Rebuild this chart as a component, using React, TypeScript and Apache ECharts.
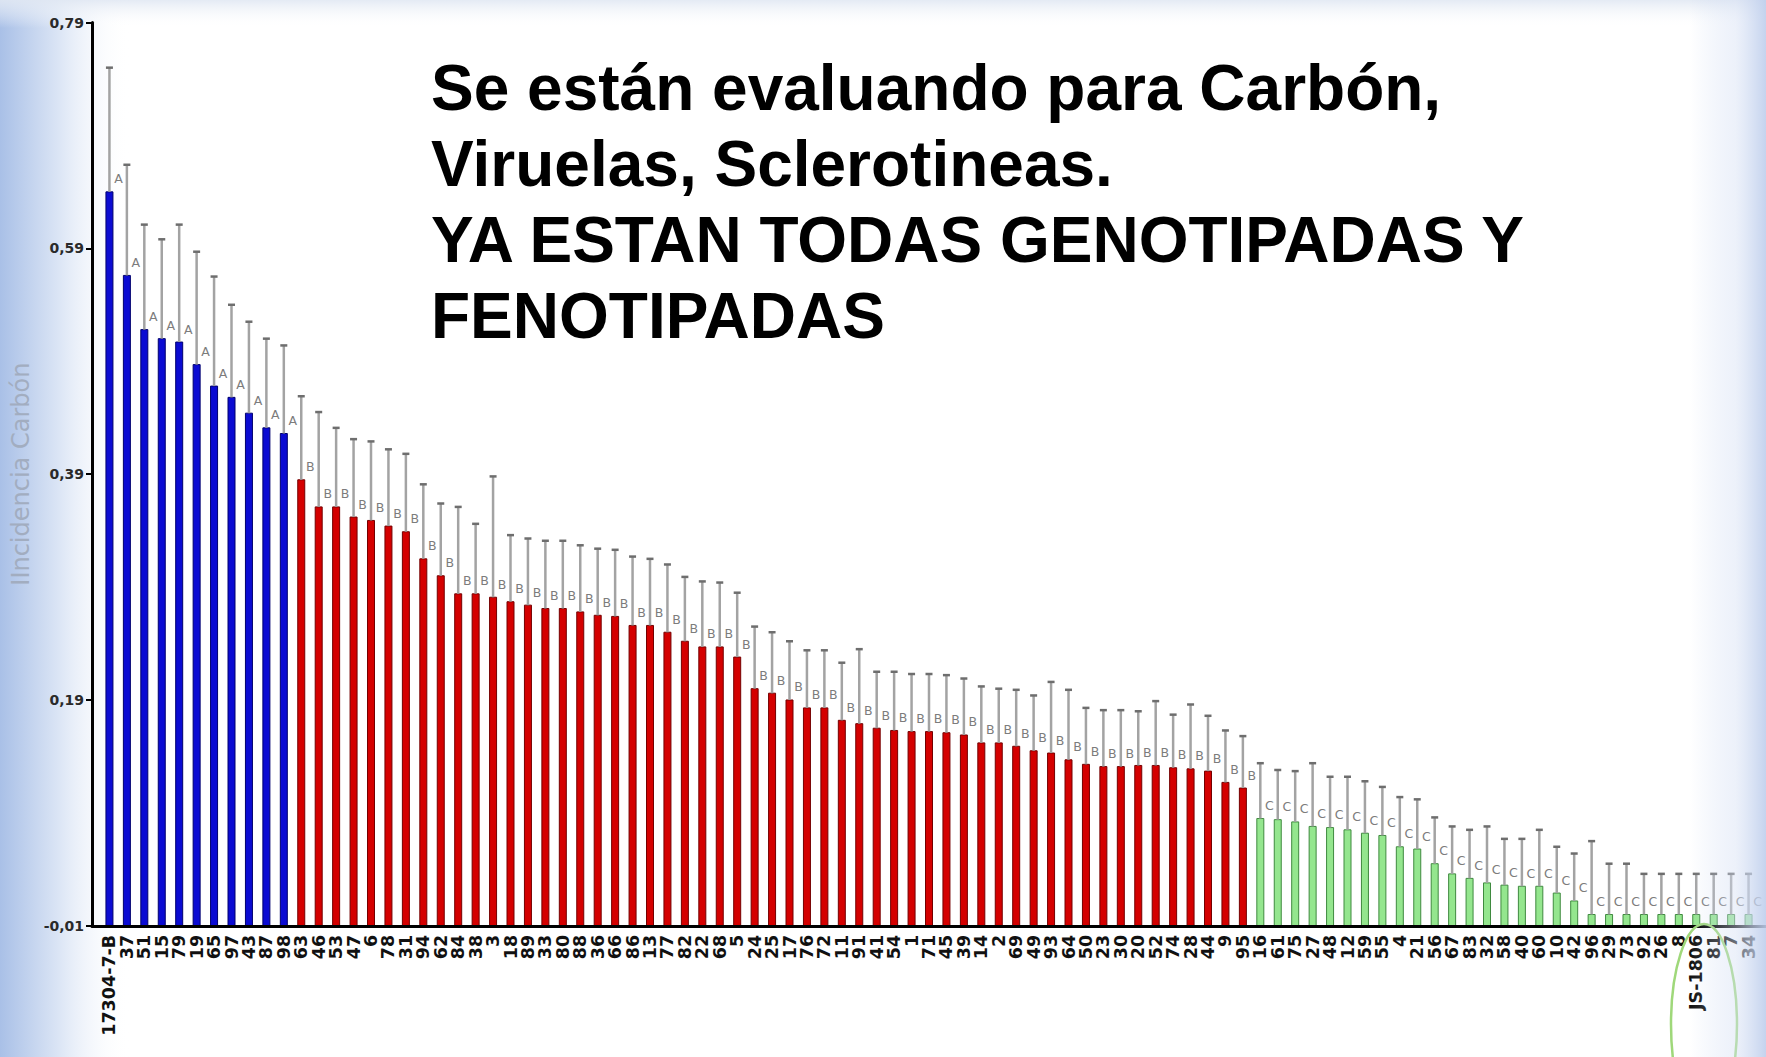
import React, { useEffect, useRef } from "react";
import * as echarts from "echarts";

// ---------- data ----------
const yTickValues = [-0.01, 0.19, 0.39, 0.59, 0.79];
const yAxisTitle = "IIncidencia Carbón";
const titleLines = [
  "Se están evaluando para Carbón,",
  "Viruelas, Sclerotineas.",
  "YA ESTAN TODAS GENOTIPADAS Y",
  "FENOTIPADAS",
];

// group A (blue)
const groupACats = ["17304-7-B", "37", "51", "15", "79", "19", "65", "97", "43", "87", "98"];
const groupAMeans = [0.640, 0.566, 0.518, 0.510, 0.507, 0.487, 0.468, 0.458, 0.444, 0.431, 0.426];
const groupAUpper = [0.750, 0.664, 0.611, 0.598, 0.611, 0.587, 0.565, 0.540, 0.525, 0.510, 0.504];

// group B (red)
const groupBCats = [
  "63", "46", "53", "47", "6", "78", "31", "94", "62", "84",
  "38", "3", "18", "89", "33", "80", "88", "36", "66", "86",
  "13", "77", "82", "22", "68", "5", "24", "25", "17", "76",
  "72", "11", "91", "41", "54", "1", "71", "45", "39", "14",
  "2", "69", "49", "93", "64", "50", "23", "30", "20", "52",
  "74", "28", "44", "9", "95",
];
const groupBMeans = [
  0.385, 0.361, 0.361, 0.352, 0.349, 0.344, 0.339, 0.315, 0.300, 0.284,
  0.284, 0.281, 0.277, 0.274, 0.271, 0.271, 0.268, 0.265, 0.264, 0.256,
  0.256, 0.250, 0.242, 0.237, 0.237, 0.228, 0.200, 0.196, 0.190, 0.183,
  0.183, 0.172, 0.169, 0.165, 0.163, 0.162, 0.162, 0.161, 0.159, 0.152,
  0.152, 0.149, 0.145, 0.143, 0.137, 0.133, 0.131, 0.131, 0.132, 0.132,
  0.130, 0.129, 0.127, 0.117, 0.112,
];
const groupBUpper = [
  0.459, 0.445, 0.431, 0.421, 0.419, 0.412, 0.408, 0.381, 0.364, 0.361,
  0.346, 0.388, 0.336, 0.333, 0.331, 0.331, 0.327, 0.324, 0.323, 0.317,
  0.315, 0.310, 0.299, 0.295, 0.294, 0.285, 0.255, 0.250, 0.242, 0.234,
  0.234, 0.223, 0.235, 0.215, 0.215, 0.213, 0.213, 0.212, 0.209, 0.202,
  0.200, 0.199, 0.194, 0.206, 0.199, 0.183, 0.181, 0.181, 0.180, 0.189,
  0.177, 0.186, 0.176, 0.163, 0.158,
];

// group C (green)
const groupCCats = [
  "16", "61", "75", "27", "48", "12", "59", "55", "4", "21",
  "56", "67", "83", "32", "58", "40", "60", "10", "42", "96",
  "29", "73", "92", "26", "8", "JS-1806", "81", "7", "34",
];
const groupCMeans = [
  0.085, 0.084, 0.082, 0.078, 0.077, 0.075, 0.072, 0.070, 0.060, 0.058,
  0.045, 0.036, 0.032, 0.028, 0.026, 0.025, 0.025, 0.019, 0.012, 0,
  0, 0, 0, 0, 0, 0, 0, 0, 0,
];
const groupCUpper = [
  0.134, 0.128, 0.127, 0.134, 0.122, 0.122, 0.118, 0.113, 0.104, 0.102,
  0.086, 0.078, 0.075, 0.078, 0.067, 0.067, 0.075, 0.060, 0.054, 0.065,
  0.045, 0.045, 0.036, 0.036, 0.036, 0.036, 0.036, 0.036, 0.036,
];

const groupLetters = ["A", "B", "C"];
const groupFill = ["#0b0bd2", "#d40000", "#94e68e"];
const groupStroke = ["#00006e", "#740000", "#3f8a3f"];

export default function App() {
  const ref = useRef<HTMLDivElement>(null);

  useEffect(() => {
    const chart = echarts.init(ref.current!, null, { renderer: "svg" });

    const groups = [
      { cats: groupACats, means: groupAMeans, upper: groupAUpper },
      { cats: groupBCats, means: groupBMeans, upper: groupBUpper },
      { cats: groupCCats, means: groupCMeans, upper: groupCUpper },
    ];
    const allCats: string[] = [];
    const rows: number[][] = [];
    groups.forEach((g, gi) => {
      g.cats.forEach((c, i) => {
        allCats.push(c);
        // [x index (padded by one empty slot), mean, group, upper]
        rows.push([allCats.length, g.means[i], gi, g.upper[i]]);
      });
    });
    const axisCats = ["", ...allCats, ""];

    const yMin = yTickValues[0];
    const yMax = yTickValues[yTickValues.length - 1];
    const yStep = yTickValues[1] - yTickValues[0];

    const option: any = {
      animation: false,
      backgroundColor: "#ffffff",
      grid: { left: 92, top: 22.5, width: 1676, height: 903.3, containLabel: false },
      xAxis: {
        type: "category",
        data: axisCats,
        boundaryGap: false,
        z: 5,
        axisLine: { onZero: false, lineStyle: { color: "#000", width: 3 } },
        axisTick: { show: false },
        axisLabel: {
          interval: 0,
          rotate: 90,
          margin: 9,
          color: "#111",
          fontFamily: "DejaVu Sans",
          fontWeight: "bold",
          fontSize: 17.5,
        },
        splitLine: { show: false },
      },
      yAxis: {
        type: "value",
        min: yMin,
        max: yMax,
        interval: yStep,
        z: 5,
        name: yAxisTitle,
        nameLocation: "middle",
        nameGap: 55,
        nameTextStyle: { color: "#a2adc0", fontSize: 24, fontFamily: "DejaVu Sans" },
        axisLine: { show: true, onZero: false, lineStyle: { color: "#000", width: 3 } },
        axisTick: { show: true, length: 6, lineStyle: { color: "#000", width: 2 } },
        axisLabel: {
          margin: 8,
          color: "#2a2a2a",
          fontFamily: "DejaVu Sans",
          fontWeight: "bold",
          fontSize: 14,
          formatter: (v: number) => v.toFixed(2).replace(".", ","),
        },
        splitLine: { show: false },
      },
      series: [
        {
          type: "custom",
          name: "medias",
          z: 2,
          data: rows,
          encode: { x: 0, y: 1 },
          renderItem: (params: any, api: any) => {
            const xi = api.value(0);
            const v = api.value(1);
            const g = api.value(2);
            const top = api.coord([xi, v]);
            const base = api.coord([xi, yMin]);
            const w = 7;
            return {
              type: "rect",
              shape: { x: top[0] - w / 2, y: top[1], width: w, height: base[1] - top[1] },
              style: { fill: groupFill[g], stroke: groupStroke[g], lineWidth: 1 },
            };
          },
        },
        {
          type: "custom",
          name: "error",
          z: 3,
          data: rows,
          encode: { x: 0, y: 3 },
          renderItem: (params: any, api: any) => {
            const xi = api.value(0);
            const v = api.value(1);
            const g = api.value(2);
            const up = api.value(3);
            const p0 = api.coord([xi, v]);
            const p1 = api.coord([xi, up]);
            return {
              type: "group",
              children: [
                {
                  type: "line",
                  shape: { x1: p0[0], y1: p0[1], x2: p1[0], y2: p1[1] },
                  style: { stroke: "#a3a3a3", lineWidth: 2.5 },
                },
                {
                  type: "line",
                  shape: { x1: p1[0] - 3.5, y1: p1[1], x2: p1[0] + 3.5, y2: p1[1] },
                  style: { stroke: "#6e6e6e", lineWidth: 2.5 },
                },
                {
                  type: "text",
                  x: p0[0] + 9,
                  y: p0[1] - 13,
                  style: {
                    text: groupLetters[g],
                    fill: "#7c7c7c",
                    fontSize: 12.5,
                    fontFamily: "DejaVu Sans",
                    align: "center",
                    verticalAlign: "middle",
                  },
                },
              ],
            };
          },
        },
      ],
      graphic: [
        {
          type: "rect",
          z: -10,
          silent: true,
          shape: { x: 0, y: 0, width: 130, height: 1057 },
          style: {
            fill: new echarts.graphic.LinearGradient(0, 0, 1, 0, [
              { offset: 0, color: "#a9c0e7" },
              { offset: 0.45, color: "#dbe5f5" },
              { offset: 1, color: "rgba(255,255,255,0)" },
            ]),
          },
        },
        {
          type: "rect",
          z: -10,
          silent: true,
          shape: { x: 0, y: 0, width: 1766, height: 28 },
          style: {
            fill: new echarts.graphic.LinearGradient(0, 0, 0, 1, [
              { offset: 0, color: "rgba(225,232,243,0.9)" },
              { offset: 1, color: "rgba(255,255,255,0)" },
            ]),
          },
        },
        {
          type: "rect",
          z: 100,
          silent: true,
          shape: { x: 1690, y: 0, width: 76, height: 1057 },
          style: {
            fill: new echarts.graphic.LinearGradient(0, 0, 1, 0, [
              { offset: 0, color: "rgba(200,214,240,0)" },
              { offset: 0.6, color: "rgba(214,224,244,0.45)" },
              { offset: 1, color: "rgba(190,206,236,0.9)" },
            ]),
          },
        },
        {
          type: "ellipse",
          z: 50,
          silent: true,
          shape: { cx: 1704, cy: 1024, rx: 33, ry: 100 },
          style: { fill: "none", stroke: "#9fd87a", lineWidth: 2.5 },
        },
        {
          type: "text",
          z: 60,
          x: 431,
          y: 50,
          style: {
            text: titleLines.join("\n"),
            fill: "#000",
            fontSize: 64,
            fontWeight: "bold",
            fontFamily: "Liberation Sans",
            lineHeight: 76,
            align: "left",
            verticalAlign: "top",
          },
        },
      ],
    };

    chart.setOption(option);
    return () => chart.dispose();
  }, []);

  return (
    <div
      ref={ref}
      style={{ position: "absolute", left: 0, top: 0, width: 1766, height: 1057 }}
    />
  );
}
